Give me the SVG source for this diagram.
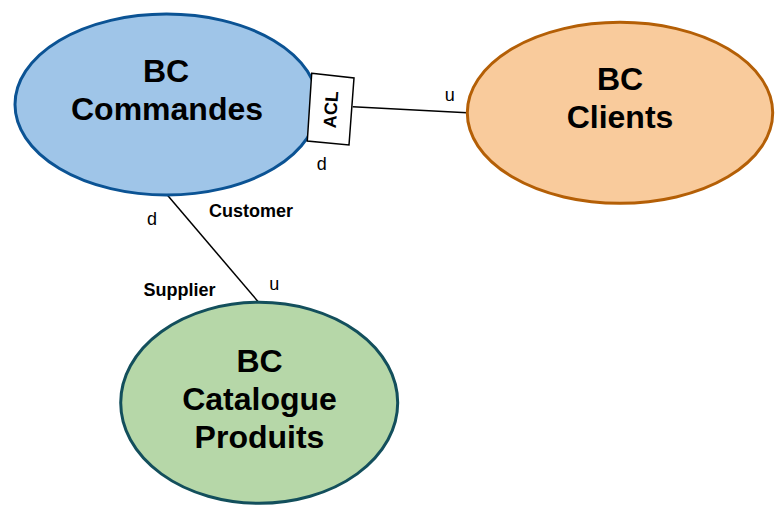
<svg xmlns="http://www.w3.org/2000/svg" width="780" height="514" viewBox="0 0 780 514">
<style>
.title{font-family:"Liberation Sans",Arial,sans-serif;font-weight:bold;font-size:32px;fill:#000;text-anchor:middle}
.role{font-family:"Liberation Sans",Arial,sans-serif;font-weight:bold;font-size:18px;fill:#000;text-anchor:middle}
.ud{font-family:"Liberation Sans",Arial,sans-serif;font-size:18px;fill:#000;text-anchor:middle}
.conn{stroke:#000;stroke-width:1.5;fill:none}
.node{stroke-width:3}
</style>
<rect width="780" height="514" fill="#fff"/>
<g id="connectors">
<line class="conn" x1="352.7" y1="106.7" x2="467" y2="112.7"/>
<line class="conn" x1="167.3" y1="195" x2="259" y2="302.7"/>
</g>
<g id="bc-commandes">
<ellipse class="node" cx="166.5" cy="104.5" rx="151.5" ry="90.5" fill="#9fc5e8" stroke="#0b5394"/>
<text class="title" x="166" y="82">BC</text>
<text class="title" x="167" y="120">Commandes</text>
</g>
<g id="acl">
<polygon points="311.7,73.3 354,78 349,145 307.3,141" fill="#fff" stroke="#000" stroke-width="1.5"/>
<text class="role" transform="translate(337,110) rotate(-86)">ACL</text>
</g>
<g id="bc-clients">
<ellipse class="node" cx="620" cy="112.8" rx="152.7" ry="90.5" fill="#f9cb9c" stroke="#b45f06"/>
<text class="title" x="620" y="89.5">BC</text>
<text class="title" x="620" y="127.5">Clients</text>
</g>
<g id="bc-catalogue">
<ellipse class="node" cx="259.2" cy="402.8" rx="138.5" ry="100.5" fill="#b6d7a8" stroke="#134f5c"/>
<text class="title" x="259.5" y="371.5">BC</text>
<text class="title" x="259.5" y="409.5">Catalogue</text>
<text class="title" x="259.5" y="447.5">Produits</text>
</g>
<g id="labels">
<text class="ud" x="449.7" y="100.7">u</text>
<text class="ud" x="321.7" y="170">d</text>
<text class="ud" x="152" y="225">d</text>
<text class="ud" x="274.3" y="290">u</text>
<text class="role" x="251" y="216.5">Customer</text>
<text class="role" x="179.5" y="295.5">Supplier</text>
</g>
</svg>
